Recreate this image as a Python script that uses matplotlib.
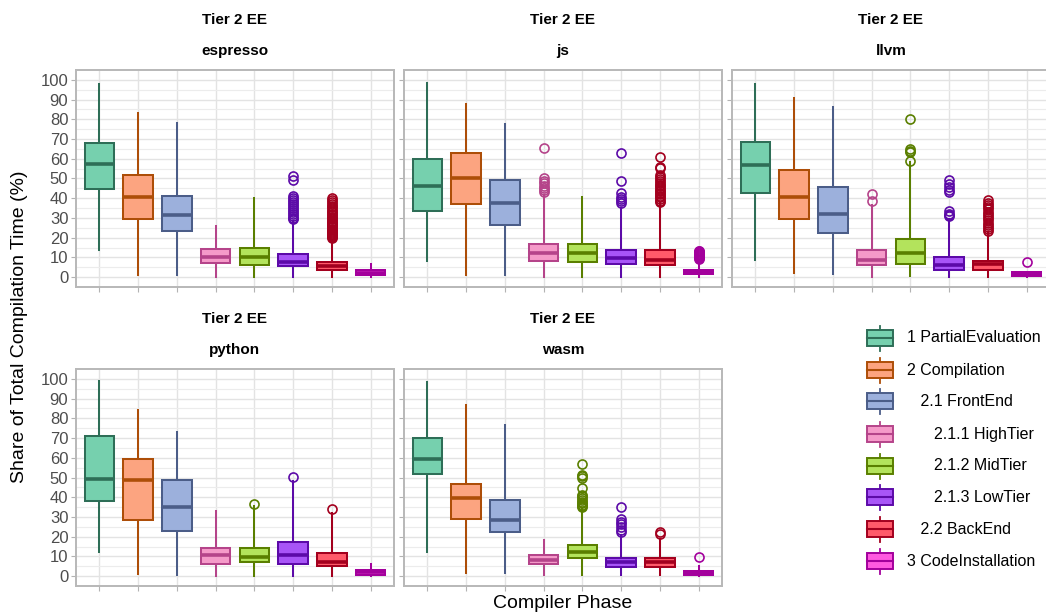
import matplotlib
matplotlib.use("Agg")
import matplotlib.pyplot as plt
from matplotlib.patches import Rectangle

plt.rcParams['font.family'] = ['Liberation Sans', 'DejaVu Sans']

phases = ["1 PartialEvaluation", "2 Compilation", "   2.1 FrontEnd",
          "      2.1.1 HighTier", "      2.1.2 MidTier", "      2.1.3 LowTier",
          "   2.2 BackEnd", "3 CodeInstallation"]
fills = ["#76d0ae", "#fca480", "#9cb0dc", "#f59ac9", "#b3e35c", "#a855f7", "#ff5a6a", "#ff5ae0"]
edges = ["#2e6e57", "#ad4e08", "#4b5d88", "#b5448a", "#5a7f00", "#5c0aa8", "#a3001e", "#a3009c"]

benchmarks = ["espresso", "js", "llvm", "python", "wasm"]

# (whisker low, q1, median, q3, whisker high) per phase
espresso = [(13.6, 44.6, 57.1, 67.8, 98.1), (1.3, 29.6, 40.4, 51.7, 83.0),
            (1.3, 23.4, 31.3, 41.2, 78.0), (0.3, 7.4, 10.1, 14.3, 26.1),
            (0.3, 6.2, 10.1, 15.0, 39.9), (0.3, 5.5, 7.8, 11.5, 28.3),
            (0.3, 3.7, 5.8, 7.9, 19.0), (0.0, 1.0, 2.0, 3.4, 6.9)]
espresso_out = [[], [], [], [], [],
                [29.5, 30.2, 31.0, 32.0, 33.2, 34.0, 35.1, 36.0, 37.2, 38.0, 39.1, 40.0, 41.0, 49.2, 51.5],
                [19.6, 20.1, 20.6, 21.2, 21.8, 22.3, 22.9, 23.5, 24.0, 24.6, 25.2, 25.8, 26.3, 26.9,
                 27.5, 28.1, 28.7, 29.3, 30.0, 30.6, 31.3, 32.0, 32.8, 33.6, 34.5, 35.4, 36.3,
                 37.3, 38.3, 39.2, 40.0],
                []]

js = [(8.4, 33.7, 46.3, 59.8, 98.2), (1.2, 37.2, 50.2, 63.0, 87.7),
      (0.9, 26.3, 37.6, 49.0, 77.6), (0.2, 8.1, 12.3, 16.9, 41.8),
      (0.2, 7.7, 12.3, 16.9, 40.4), (0.2, 6.8, 9.8, 14.0, 35.0),
      (0.2, 6.1, 8.9, 14.0, 37.6), (0.2, 1.4, 2.5, 3.5, 8.5)]
js_out = [[], [], [],
          [43.4, 44.3, 45.2, 46.4, 47.5, 48.6, 50.2, 65.3],
          [],
          [37.6, 38.6, 39.6, 40.8, 42.6, 48.5, 62.8],
          [38.0, 38.8, 39.6, 40.4, 41.2, 42.0, 42.8, 43.6, 44.4, 45.2, 46.0, 46.9, 47.8,
           48.8, 49.8, 50.8, 51.9, 55.3, 56.0, 60.8],
          [9.0, 9.5, 10.0, 10.5, 11.0, 11.5, 12.0, 12.5, 13.0, 13.5]]

llvm = [(8.6, 42.9, 56.8, 68.4, 97.7), (2.0, 29.6, 40.6, 54.4, 90.6),
        (1.7, 22.2, 31.8, 45.5, 86.4), (0.2, 6.1, 8.9, 14.0, 36.7),
        (0.5, 6.9, 12.3, 19.5, 58.6), (0.2, 3.5, 5.9, 10.1, 29.5),
        (0.2, 3.4, 6.9, 8.4, 22.7), (0.0, 0.4, 1.5, 2.7, 2.7)]
llvm_out = [[], [], [],
            [38.4, 42.3],
            [58.9, 63.5, 64.0, 64.8, 80.3],
            [30.8, 31.5, 32.2, 33.3, 43.0, 44.2, 45.5, 47.0, 49.0],
            [23.2, 24.2, 25.3, 26.5, 27.6, 28.8, 29.9, 31.0, 32.1, 33.2, 34.4, 35.5,
             36.7, 37.8, 39.2],
            [7.8]]

python = [(12.3, 38.3, 49.4, 70.8, 99.0), (1.3, 28.7, 48.9, 59.4, 84.3),
          (0.8, 22.8, 35.2, 48.9, 73.0), (0.3, 5.9, 10.6, 14.3, 33.2),
          (0.3, 7.1, 9.6, 14.3, 35.4), (0.3, 6.2, 10.6, 17.2, 48.0),
          (0.3, 5.1, 7.4, 11.8, 32.0), (0.0, 0.8, 2.0, 3.2, 6.4)]
python_out = [[], [], [], [], [36.8], [50.4], [34.2], []]

wasm = [(12.1, 51.8, 59.4, 70.0, 98.5), (1.7, 29.2, 39.8, 46.7, 86.7),
        (1.5, 22.6, 28.7, 38.4, 76.6), (0.5, 6.1, 8.4, 10.8, 18.1),
        (0.5, 9.1, 12.1, 16.0, 34.6), (0.5, 4.8, 7.3, 9.1, 21.1),
        (0.5, 4.4, 7.3, 9.1, 18.9), (0.0, 0.5, 1.5, 2.5, 5.0)]
wasm_out = [[], [], [], [],
            [34.9, 35.6, 36.3, 37.0, 37.8, 38.6, 39.5, 40.4, 41.3, 44.7, 49.8, 50.6, 51.4, 57.0],
            [22.3, 23.5, 24.8, 26.2, 27.6, 29.0, 34.9],
            [21.6, 22.3],
            [9.8]]

panel_stats = [espresso, js, llvm, python, wasm]
panel_out = [espresso_out, js_out, llvm_out, python_out, wasm_out]

W, H = 1046, 616
fig = plt.figure(figsize=(W / 100, H / 100), dpi=100)

col_left = [76, 404, 732]
row_top = [70, 369]
pw, ph = 318, 217


def px_axes(left, top, width, height):
    return fig.add_axes([left / W, 1 - (top + height) / H, width / W, height / H])


def draw_panel(ax, stats, outs, show_y):
    bstats = []
    for (lo, q1, med, q3, hi), out in zip(stats, outs):
        bstats.append(dict(whislo=lo, q1=q1, med=med, q3=q3, whishi=hi, fliers=out))
    art = ax.bxp(bstats, positions=range(1, len(bstats) + 1), widths=0.76,
                 patch_artist=True, showcaps=False, manage_ticks=False)
    for i, box in enumerate(art['boxes']):
        box.set_facecolor(fills[i])
        box.set_edgecolor(edges[i])
        box.set_linewidth(1.45)
        box.set_zorder(3)
        art['medians'][i].set(color=edges[i], linewidth=2.6, zorder=4,
                              solid_capstyle='butt')
        for w in art['whiskers'][2 * i:2 * i + 2]:
            w.set(color=edges[i], linewidth=1.45, zorder=2)
        art['fliers'][i].set(marker='o', markerfacecolor='none', markeredgecolor=edges[i],
                             markersize=6.5, markeredgewidth=1.2, zorder=3)

    ax.set_xlim(0.4, 8.6)
    ax.set_ylim(-5, 105)
    ax.set_xticks(range(1, 9))
    ax.set_xticklabels([])
    ax.set_yticks(range(0, 101, 10))
    ax.set_yticks(range(5, 101, 10), minor=True)
    ax.grid(True, which='major', color='#e3e3e3', linewidth=1.0, zorder=0)
    ax.grid(True, which='minor', axis='y', color='#ececec', linewidth=0.8, zorder=0)
    ax.set_axisbelow(True)
    ax.tick_params(axis='both', which='major', color='#b3b3b3', length=3.5, width=0.8,
                   labelsize=12, labelcolor='#4d4d4d', pad=2)
    ax.tick_params(axis='y', which='minor', length=0)
    if not show_y:
        ax.set_yticklabels([])
    for sp in ax.spines.values():
        sp.set_color('#b8b8b8')
        sp.set_linewidth(1.4)


positions = [(0, 0), (0, 1), (0, 2), (1, 0), (1, 1)]
for name, stats, outs, (r, c) in zip(benchmarks, panel_stats, panel_out, positions):
    ax = px_axes(col_left[c], row_top[r], pw, ph)
    draw_panel(ax, stats, outs, c == 0)
    cx = (col_left[c] + pw / 2) / W
    fig.text(cx, 1 - (row_top[r] - 50) / H, "Tier 2 EE", ha='center', va='center',
             fontsize=11, fontweight='bold')
    fig.text(cx, 1 - (row_top[r] - 19) / H, name, ha='center', va='center',
             fontsize=11, fontweight='bold')

fig.text(20 / W, 1 - 327 / H, "Share of Total Compilation Time (%)", rotation=90,
         ha='center', va='center', fontsize=14)
fig.text(563 / W, 1 - 603 / H, "Compiler Phase", ha='center', va='center', fontsize=14)

# legend keys drawn in pixel coordinates
lax = px_axes(850, 318, 196, 260)
lax.set_xlim(850, 1046)
lax.set_ylim(578, 318)
lax.axis('off')
key_y = [338, 370, 401, 434, 466, 497, 529, 561]
for label, fc, ec, y in zip(phases, fills, edges, key_y):
    lax.plot([880, 880], [y - 12, y + 13], color=ec, linewidth=1.3)
    lax.add_patch(Rectangle((867, y - 8), 26, 16, facecolor=fc, edgecolor=ec,
                            linewidth=1.4, zorder=3))
    lax.plot([867, 893], [y, y], color=ec, linewidth=1.5, zorder=4)
    lax.text(907, y, label, ha='left', va='center', fontsize=11.5)

fig.savefig("out.png", dpi=100)
